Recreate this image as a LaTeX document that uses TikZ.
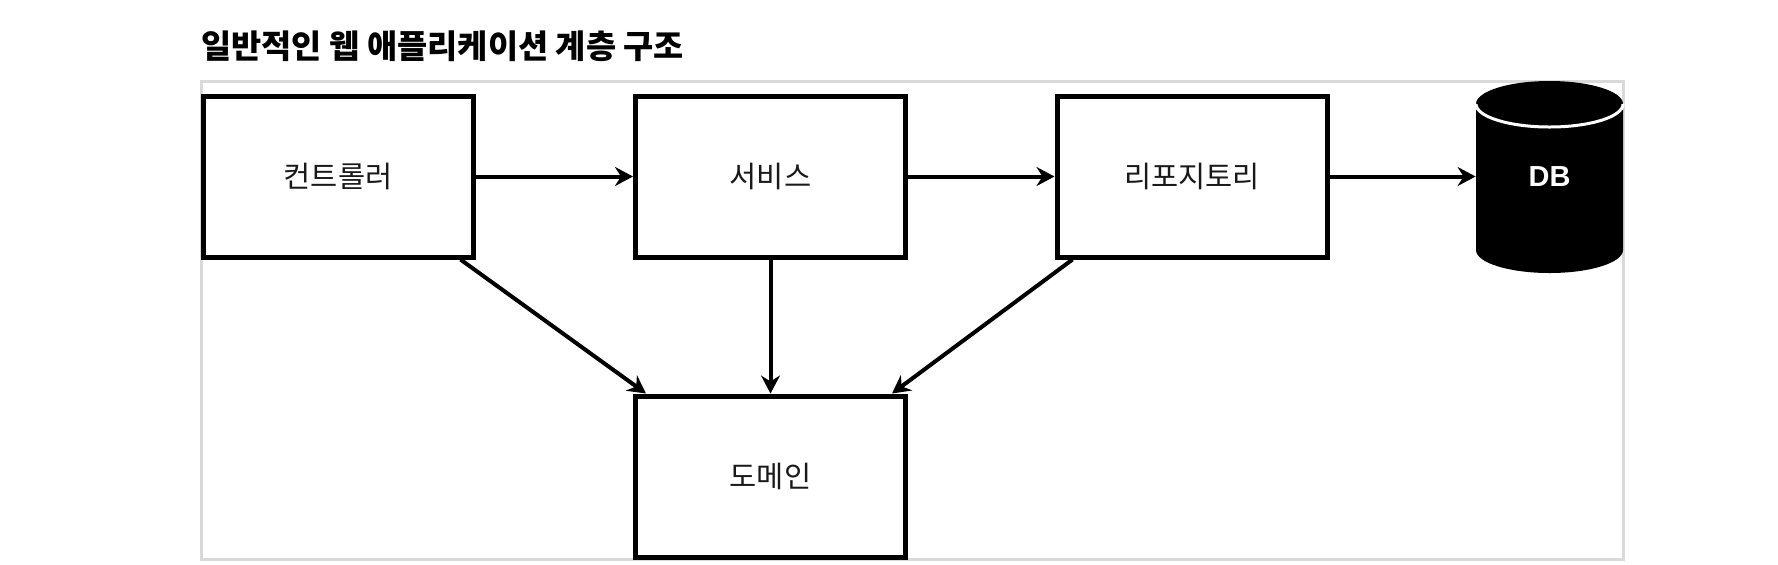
\documentclass[tikz,border=0pt]{standalone}
\usepackage{fontspec}
\setmainfont{Noto Sans CJK KR}
\newfontfamily\dbfont{Liberation Sans}
\usepackage{tikz}
\usetikzlibrary{arrows.meta}

\begin{document}
\begin{tikzpicture}[x=0.5pt, y=-0.5pt, font=\fontsize{14.75}{17}\selectfont]

    % --- STYLES ---
    \tikzset{layerbox/.style={draw=black, line width=2.5pt, fill=white, minimum width=135pt, minimum height=80.5pt, inner sep=0pt, text=black!90}}
    \tikzset{flow/.style={-{Stealth[length=9pt, width=9.5pt, inset=3pt]}, line width=2pt}}

    \useasboundingbox (0,0) rectangle (1778,564);

    % --- TITLE ---
    \node[anchor=west, inner sep=0pt, font=\fontsize{16.4}{19}\selectfont\bfseries] (title) at (201,46) {일반적인 웹 애플리케이션 계층 구조};

    % --- FRAME ---
    \draw[gray!30, line width=1.5pt] (201,81) rectangle (1623,559);

    % --- LAYERS ---
    \node[layerbox] (ctrl) at (338,176.5) {컨트롤러};
    \node[layerbox] (svc) at (770.5,176.5) {서비스};
    \node[layerbox] (repo) at (1192,176.5) {리포지토리};
    \node[layerbox] (domain) at (770.5,476.5) {도메인};

    % --- DB (Zylinder) ---
    \fill[black] (1476,104) -- (1476,250) arc[start angle=180, end angle=0, x radius=73.5, y radius=23]
        -- (1623,104) arc[start angle=0, end angle=-180, x radius=73.5, y radius=23] -- cycle;
    \draw[white, line width=1.5pt] (1476,104) arc[start angle=180, end angle=0, x radius=73.5, y radius=23]; % Rand oben
    \node[text=white, inner sep=0pt, minimum width=73.5pt, minimum height=96pt, font=\dbfont\fontsize{14.5}{17}\selectfont\bfseries] (db) at (1549.5,176.5) {DB};

    % --- ARROWS ---
    \draw[flow] (ctrl) -- (svc);
    \draw[flow] (svc) -- (repo);
    \draw[flow] (repo) -- (db);
    \draw[flow] (svc) -- (domain);
    \draw[flow] ([xshift=-7.5pt]ctrl.south east) -- ([xshift=6.5pt]domain.north west);
    \draw[flow] ([xshift=9pt]repo.south west) -- ([xshift=-8pt]domain.north east);

\end{tikzpicture}
\end{document}
